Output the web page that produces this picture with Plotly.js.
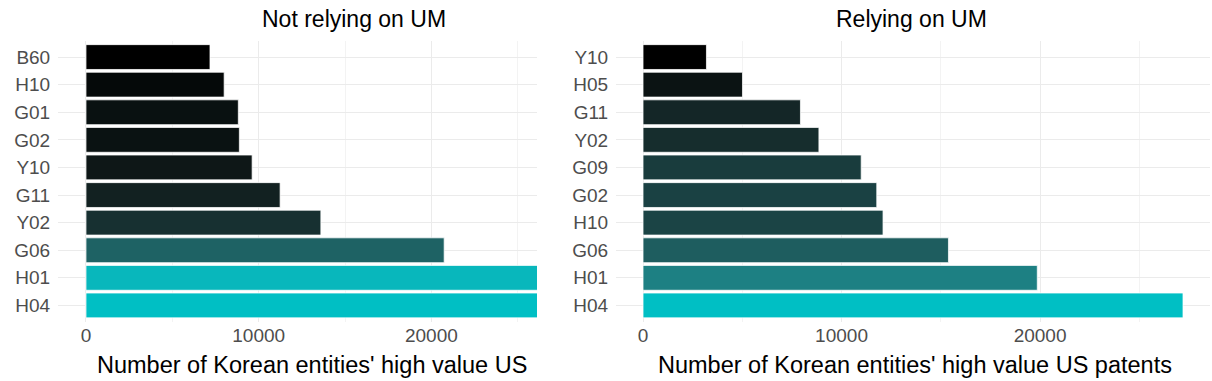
<!DOCTYPE html>
<html>
<head>
<meta charset="utf-8">
<script src="https://cdn.plot.ly/plotly-3.0.1.min.js"></script>
<style>
  html, body { margin: 0; padding: 0; background: #ffffff; }
  #chart { width: 1212px; height: 381px; }
</style>
</head>
<body>
<div id="chart"></div>
<script>
// ---- Data ----
var leftCategories  = ['B60', 'H10', 'G01', 'G02', 'Y10', 'G11', 'Y02', 'G06', 'H01', 'H04'];
var leftValues      = [7180, 8000, 8820, 8880, 9620, 11240, 13600, 20740, 31500, 32400];
var rightCategories = ['Y10', 'H05', 'G11', 'Y02', 'G09', 'G02', 'H10', 'G06', 'H01', 'H04'];
var rightValues     = [3195, 5010, 7930, 8860, 10990, 11775, 12090, 15385, 19860, 27200];
var xTickValues     = [0, 10000, 20000];
var xTickLabels     = ['0', '10000', '20000'];
var leftTitle   = 'Not relying on UM';
var rightTitle  = 'Relying on UM';
var leftXTitle  = "Number of Korean entities' high value US";
var rightXTitle = "Number of Korean entities' high value US patents";

// ---- Lab colour gradient (black -> #00BFC4), like ggplot's scale_fill_gradient ----
function srgbToLin(c){ c/=255; return c<=0.04045? c/12.92 : Math.pow((c+0.055)/1.055,2.4); }
function linToSrgb(c){ var v = c<=0.0031308? 12.92*c : 1.055*Math.pow(c,1/2.4)-0.055; return Math.max(0,Math.min(255,Math.round(v*255))); }
function rgbToLab(r,g,b){
  r=srgbToLin(r); g=srgbToLin(g); b=srgbToLin(b);
  var X=(0.4124*r+0.3576*g+0.1805*b)/0.95047, Y=(0.2126*r+0.7152*g+0.0722*b), Z=(0.0193*r+0.1192*g+0.9505*b)/1.08883;
  function f(t){ return t>0.008856? Math.cbrt(t) : 7.787*t+16/116; }
  var fx=f(X), fy=f(Y), fz=f(Z);
  return [116*fy-16, 500*(fx-fy), 200*(fy-fz)];
}
function labToRgb(L,a,b){
  var fy=(L+16)/116, fx=fy+a/500, fz=fy-b/200;
  function fi(t){ return t*t*t>0.008856? t*t*t : (t-16/116)/7.787; }
  var X=fi(fx)*0.95047, Y=fi(fy), Z=fi(fz)*1.08883;
  var r= 3.2406*X-1.5372*Y-0.4986*Z, g=-0.9689*X+1.8758*Y+0.0415*Z, bb=0.0557*X-0.2040*Y+1.0570*Z;
  return 'rgb('+linToSrgb(Math.max(0,r))+','+linToSrgb(Math.max(0,g))+','+linToSrgb(Math.max(0,bb))+')';
}
var lowLab = rgbToLab(0,0,0), highLab = rgbToLab(0,191,196);
function gradientColors(vals){
  var mn=Math.min.apply(null,vals), mx=Math.max.apply(null,vals);
  return vals.map(function(v){
    var t=(v-mn)/(mx-mn);
    return labToRgb(lowLab[0]+t*(highLab[0]-lowLab[0]), lowLab[1]+t*(highLab[1]-lowLab[1]), lowLab[2]+t*(highLab[2]-lowLab[2]));
  });
}

var W=1212, H=381;
function px(x){ return x/W; }
function py(y){ return 1-y/H; }

var tickFont = {family:'Liberation Sans, Arial, sans-serif', size:19, color:'#4d4d4d'};
var titleFont = {family:'Liberation Sans, Arial, sans-serif', size:23, color:'#000000'};
var axisTitleFont = {family:'Liberation Sans, Arial, sans-serif', size:23.5, color:'#000000'};
var gridColor = '#ebebeb';

var traces = [
  {type:'bar', orientation:'h', x:leftValues, y:leftCategories, width:0.9,
   marker:{color:gradientColors(leftValues), line:{color:'rgba(255,255,255,0.75)', width:1}},
   xaxis:'x', yaxis:'y', hoverinfo:'x+y'},
  {type:'bar', orientation:'h', x:rightValues, y:rightCategories, width:0.9,
   marker:{color:gradientColors(rightValues), line:{color:'rgba(255,255,255,0.75)', width:1}},
   xaxis:'x2', yaxis:'y2', hoverinfo:'x+y'}
];

function xAxis(dom, rng, anchor){
  return {domain:dom, range:rng, anchor:anchor, tickvals:xTickValues, ticktext:xTickLabels,
    tickfont:tickFont, showgrid:true, gridcolor:gridColor, gridwidth:1, zeroline:false, showline:false,
    ticks:'',
    minor:{tickvals:[5000,15000,25000], showgrid:true, gridcolor:'#f3f3f3', gridwidth:1, ticks:''},
    fixedrange:true};
}
function yAxis(dom, cats, anchor){
  return {domain:dom, anchor:anchor, type:'category', categoryorder:'array', categoryarray:cats,
    range:[cats.length-0.4, -0.6], tickfont:tickFont, showgrid:true, gridcolor:gridColor, gridwidth:1,
    zeroline:false, showline:false, ticks:'outside', ticklen:3, tickcolor:'rgba(0,0,0,0)', fixedrange:true};
}

var yDom = [py(322), py(40.5)];
var layout = {
  width:W, height:H, margin:{l:0, r:0, t:0, b:0}, showlegend:false,
  paper_bgcolor:'#ffffff', plot_bgcolor:'#ffffff', bargap:0.1,
  xaxis: xAxis([px(58), px(537)], [-1621, 26115], 'y'),
  yaxis: yAxis(yDom, leftCategories, 'x'),
  xaxis2: xAxis([px(616), px(1210)], [-1361, 28560], 'y2'),
  yaxis2: yAxis(yDom, rightCategories, 'x2'),
  annotations:[
    {text:leftTitle, xref:'paper', yref:'paper', x:px(354), y:py(19), xanchor:'center', yanchor:'middle', showarrow:false, font:titleFont},
    {text:rightTitle, xref:'paper', yref:'paper', x:px(911), y:py(19), xanchor:'center', yanchor:'middle', showarrow:false, font:titleFont},
    {text:leftXTitle, xref:'paper', yref:'paper', x:px(95), y:py(365), xanchor:'left', yanchor:'middle', showarrow:false, font:axisTitleFont},
    {text:rightXTitle, xref:'paper', yref:'paper', x:px(915), y:py(365), xanchor:'center', yanchor:'middle', showarrow:false, font:axisTitleFont}
  ]
};

Plotly.newPlot('chart', traces, layout, {displayModeBar:false, staticPlot:true});
</script>
</body>
</html>
